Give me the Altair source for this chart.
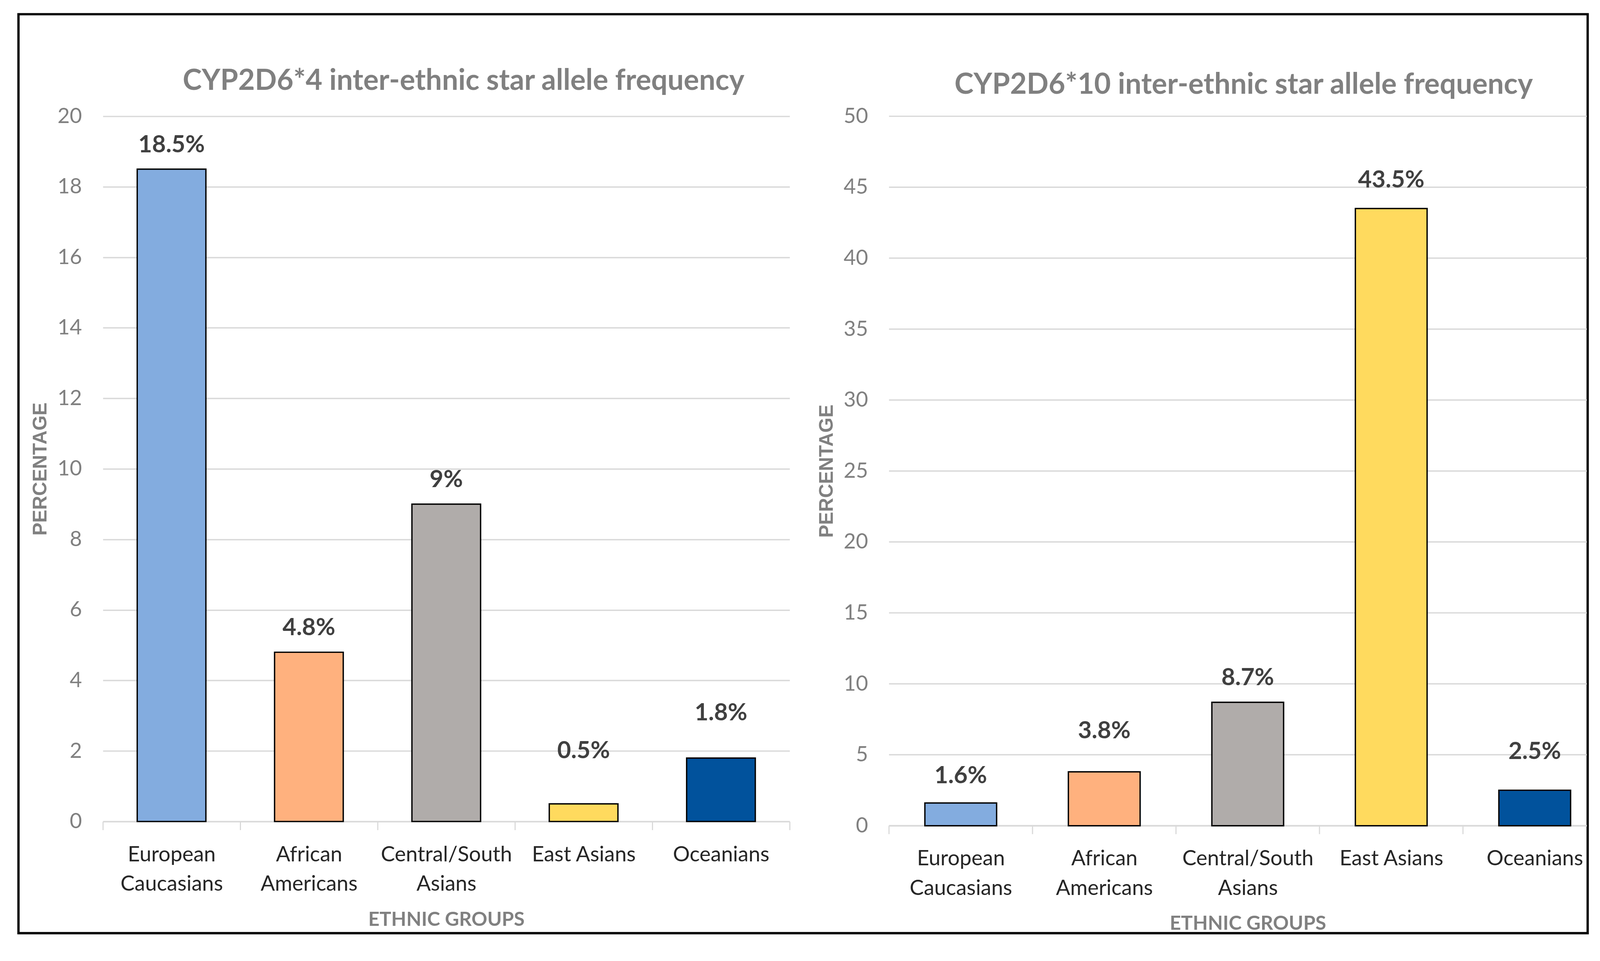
import altair as alt
import pandas as pd

# ---------------- data ----------------
groups = ["European Caucasians", "African Americans", "Central/South Asians",
          "East Asians", "Oceanians"]
cyp2d6_4 = [18.5, 4.8, 9, 0.5, 1.8]
cyp2d6_10 = [1.6, 3.8, 8.7, 43.5, 2.5]
bar_colors = ["#83ACDF", "#FFB17E", "#B0ACAA", "#FFDA5E", "#01529C"]
titles = ["CYP2D6*4 inter-ethnic star allele frequency",
          "CYP2D6*10 inter-ethnic star allele frequency"]
ticks_4 = [0, 2, 4, 6, 8, 10, 12, 14, 16, 18, 20]
ticks_10 = [0, 5, 10, 15, 20, 25, 30, 35, 40, 45, 50]
x_title = "ETHNIC GROUPS"
y_title = "PERCENTAGE"

# extra lift (pixels) of individual value labels, as placed in the original
label_lift_4 = [0, 0, 0, 75, 54]
label_lift_10 = [8, 43, 0, 11, 37]

GRID = "#D9D9D9"
FONT = "Lato"

LEFT_W, LEFT_H = 1790, 1838
RIGHT_W, RIGHT_H = 1819, 1849
RIGHT_RANGE = 1870
SPACING = 259

label_expr = "datum.label == 'East Asians' ? datum.label : split(datum.label, ' ')"


def panel(values, lifts, title, yticks, ymax, w, h, xrange, title_dx, title_dy, manual):
    df = pd.DataFrame({"group": groups, "value": values, "lift": lifts})
    df["label_pos"] = df["value"] + df["lift"] * ymax / h
    base = alt.Chart(df)
    x_scale = alt.Scale(domain=groups, range=[0, xrange], paddingInner=0, paddingOuter=0)
    y_scale = alt.Scale(domain=[0, ymax], nice=False)
    x_axis = alt.Axis(
        title=x_title, labelAngle=0, labelExpr=label_expr, labelFont=FONT,
        labelFontSize=55, labelColor="#262626", labelLineHeight=77,
        labelBaseline="top", labelLimit=0, labelOverlap=False,
        labelPadding=60 if manual else 38,
        tickBand="extent", ticks=not manual, tickSize=0 if manual else 22,
        tickColor=GRID, tickWidth=3,
        domain=not manual, domainColor=GRID, domainWidth=4,
        titleFont=FONT, titleFontWeight="bold", titleFontSize=51, titleColor="#808080",
        titleX=xrange / 2, titleY=271, titleBaseline="alphabetic", titleAlign="center",
        grid=False)
    y_axis = alt.Axis(
        title=y_title, values=yticks, format="d", grid=not manual, gridColor=GRID,
        gridWidth=3.5, domain=False, ticks=False, tickSize=0, labelPadding=55,
        labelFont=FONT, labelFontSize=55, labelColor="#808080",
        titleFont="Liberation Sans", titleFontWeight="bold", titleFontSize=50.5,
        titleColor="#808080", titleX=-162, titleY=h / 2, titleAngle=270,
        titleBaseline="middle", titleAlign="center")
    bars = base.mark_bar(stroke="black", strokeWidth=3.5,
                         width=alt.RelativeBandSize(0.5)).encode(
        x=alt.X("group:N", scale=x_scale, axis=x_axis),
        y=alt.Y("value:Q", scale=y_scale, axis=y_axis, stack=None),
        color=alt.Color("group:N", scale=alt.Scale(domain=groups, range=bar_colors),
                        legend=None),
    )
    text = base.transform_calculate(lbl="datum.value + '%'").mark_text(
        font=FONT, fontWeight="bold", fontSize=62, color="#404040",
        baseline="alphabetic", dy=-44).encode(
        x=alt.X("group:N", scale=x_scale),
        y=alt.Y("label_pos:Q", scale=y_scale, axis=y_axis, stack=None),
        text="lbl:N",
    )
    layers = [bars, text]
    if manual:
        # y grid lines through the y scale (kept inside the visible view width)
        grid = alt.Chart(pd.DataFrame({"tick": yticks})).mark_rule(
            color=GRID, strokeWidth=3.5).encode(
            x=alt.value(0), x2=alt.value(w),
            y=alt.Y("tick:Q", scale=y_scale, axis=y_axis))
        # x ticks at band boundaries through the x scale
        tick_rules = base.mark_rule(color=GRID, strokeWidth=3).encode(
            x=alt.X("group:N", scale=x_scale, bandPosition=0, axis=x_axis),
            y=alt.value(h), y2=alt.value(h + 22))
        axis_line = alt.Chart(pd.DataFrame({"k": [0]})).mark_rule(
            color=GRID, strokeWidth=4).encode(
            x=alt.value(0), x2=alt.value(w), y=alt.value(h))
        layers = [grid, axis_line, tick_rules, bars, text]
    return alt.layer(*layers).properties(
        width=w, height=h,
        title=alt.TitleParams(text=title, font=FONT, fontSize=75, fontWeight="bold",
                              color="#808080", anchor="middle", frame="group",
                              dx=title_dx, dy=title_dy, offset=27,
                              baseline="alphabetic"),
    )


left = panel(cyp2d6_4, label_lift_4, titles[0], ticks_4, 20, LEFT_W, LEFT_H, LEFT_W,
             45, 60, False)
right = panel(cyp2d6_10, label_lift_10, titles[1], ticks_10, 50, RIGHT_W, RIGHT_H,
              RIGHT_RANGE, 15, 70, True)

# outer black frame, drawn in an empty helper panel placed before the charts
frame = alt.Chart(pd.DataFrame({"k": [0]})).mark_rect(
    filled=False, stroke="black", strokeWidth=6).encode(
    x=alt.value(40), x2=alt.value(3870 + 260),
    y=alt.value(-266), y2=alt.value(2129)).properties(width=1, height=1)

chart = alt.hconcat(frame, left, right, spacing=SPACING, bounds="flush").properties(
    autosize=alt.AutoSizeParams(type="none"),
    padding={"left": 0, "top": 273, "right": 4154, "bottom": 2140},
    background="white",
).configure_view(strokeWidth=0)

chart.save("out.html", embed_options={"renderer": "svg", "actions": False})
